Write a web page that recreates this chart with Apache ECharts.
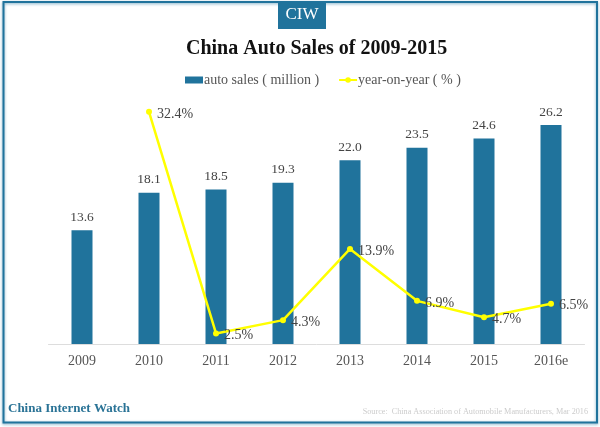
<!DOCTYPE html>
<html>
<head>
    <meta charset="UTF-8">
    <title>China Auto Sales</title>
    <script src="https://cdn.jsdelivr.net/npm/echarts@6/dist/echarts.min.js"></script>
    <style>
        html, body { margin: 0; padding: 0; background: #fff; }
    </style>
</head>
<body>
<div id="main" style="width:600px;height:427px"></div>
<script>
    var years = ['2009', '2010', '2011', '2012', '2013', '2014', '2015', '2016e'];
    var sales = [13.6, 18.1, 18.5, 19.3, 22.0, 23.5, 24.6, 26.2];
    var growth = [null, 32.4, 2.5, 4.3, 13.9, 6.9, 4.7, 6.5];

    var serif = '"Liberation Serif", "DejaVu Serif", serif';
    var blue = '#20739c';
    var textColor = '#444';

    var myChart = echarts.init(document.getElementById('main'));

    var option = {
        backgroundColor: '#fff',
        animation: false,
        title: {
            text: 'China Auto Sales of 2009-2015',
            left: 181,
            top: 34,
            textStyle: { fontFamily: serif, fontSize: 20, fontWeight: 'bold', color: '#111' }
        },
        legend: {
            top: 68,
            left: 180,
            itemWidth: 18,
            itemHeight: 7,
            itemGap: 19,
            textStyle: { fontFamily: serif, fontSize: 14, color: '#555', padding: [0, 0, 0, -4] },
            data: [
                { name: 'auto sales ( million )', icon: 'rect' },
                { name: 'year-on-year ( % )' }
            ]
        },
        grid: { left: 48.5, right: 15.5, top: 100, bottom: 83 },
        xAxis: {
            type: 'category',
            data: years,
            axisLine: { lineStyle: { color: '#ddd', width: 1 } },
            axisTick: { show: false },
            axisLabel: { fontFamily: serif, fontSize: 14, color: '#555', margin: 10 }
        },
        yAxis: [
            { type: 'value', min: 0, max: 29.2, show: false, splitLine: { show: false } },
            { type: 'value', min: 1.08, max: 34, show: false, splitLine: { show: false } }
        ],
        series: [
            {
                name: 'auto sales ( million )',
                type: 'bar',
                data: sales,
                barWidth: 21,
                itemStyle: { color: blue },
                label: {
                    show: true,
                    position: 'top',
                    distance: 6,
                    formatter: function (p) { return p.value.toFixed(1); },
                    fontFamily: serif,
                    fontSize: 13.5,
                    color: textColor
                }
            },
            {
                name: 'year-on-year ( % )',
                type: 'line',
                yAxisIndex: 1,
                data: growth,
                symbol: 'circle',
                symbolSize: 6,
                lineStyle: { color: '#ffff00', width: 2.5 },
                itemStyle: { color: '#ffff00' },
                label: {
                    show: true,
                    position: 'right',
                    distance: 5,
                    offset: [0, 2],
                    formatter: '{c}%',
                    fontFamily: serif,
                    fontSize: 14,
                    color: textColor
                }
            }
        ],
        graphic: [
            {
                type: 'rect',
                silent: true,
                shape: { x: 3.5, y: 2, width: 593.5, height: 420.5 },
                style: {
                    fill: 'transparent',
                    stroke: blue,
                    lineWidth: 2,
                    shadowBlur: 3,
                    shadowColor: 'rgba(32,115,156,0.6)',
                    shadowOffsetY: 1
                }
            },
            {
                type: 'rect',
                silent: true,
                shape: { x: 278, y: 3, width: 48, height: 26 },
                style: { fill: blue }
            },
            {
                type: 'text',
                silent: true,
                x: 302, y: 15,
                style: {
                    text: 'CIW',
                    fill: '#fff',
                    font: '17px ' + serif,
                    align: 'center',
                    verticalAlign: 'middle'
                }
            },
            {
                type: 'text',
                silent: true,
                x: 8, y: 409,
                style: {
                    text: 'China Internet Watch',
                    fill: '#2a7396',
                    font: 'bold 13px ' + serif,
                    verticalAlign: 'middle'
                }
            },
            {
                type: 'text',
                silent: true,
                x: 588, y: 412,
                style: {
                    text: 'Source:  China Association of Automobile Manufacturers, Mar 2016',
                    fill: '#ccc',
                    font: '8.2px ' + serif,
                    align: 'right',
                    verticalAlign: 'middle'
                }
            }
        ]
    };

    myChart.setOption(option);
</script>
</body>
</html>
